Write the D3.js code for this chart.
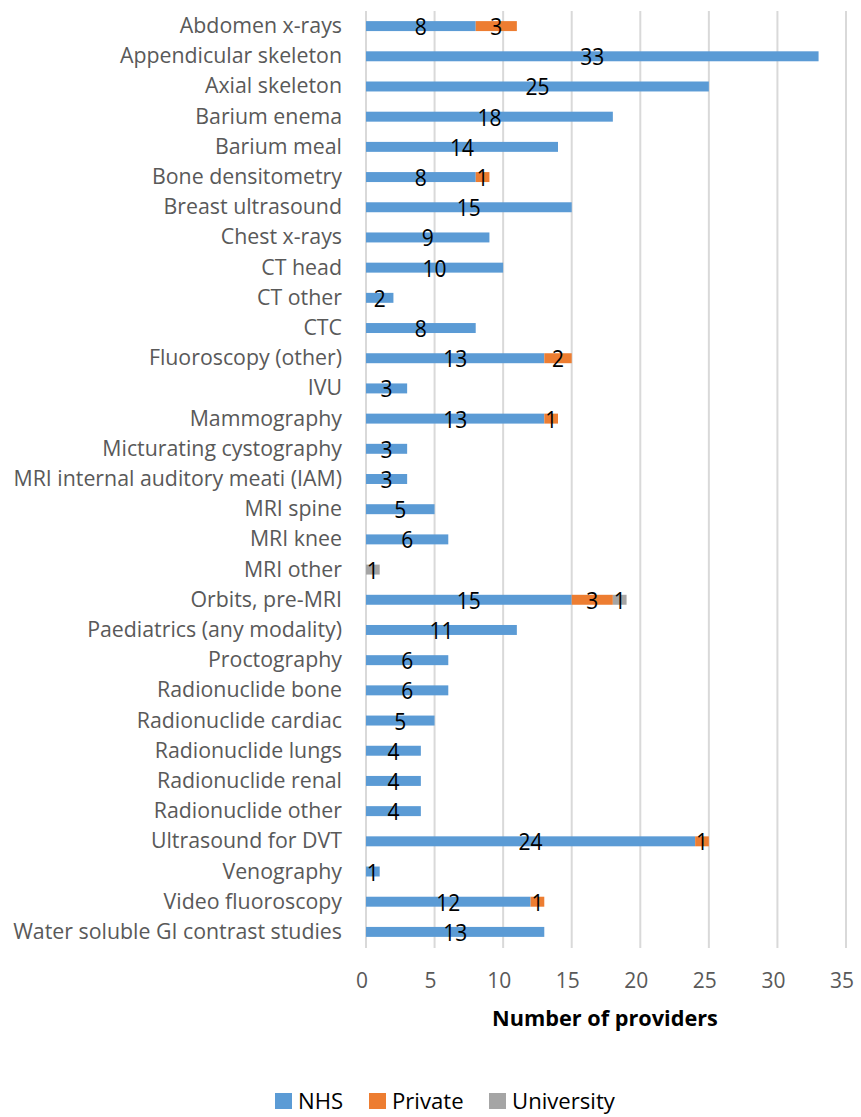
<!DOCTYPE html>
<html><head><meta charset="utf-8">
<script src="https://cdn.jsdelivr.net/npm/d3@7"></script>
<style>body{margin:0;background:#fff}svg{display:block}</style>
</head><body>
<svg id="c" width="861" height="1117"></svg>
<script>
const categories = ["Abdomen x-rays","Appendicular skeleton","Axial skeleton","Barium enema","Barium meal","Bone densitometry","Breast ultrasound","Chest x-rays","CT head","CT other","CTC","Fluoroscopy (other)","IVU","Mammography","Micturating cystography","MRI internal auditory meati (IAM)","MRI spine","MRI knee","MRI other","Orbits, pre-MRI","Paediatrics (any modality)","Proctography","Radionuclide bone","Radionuclide cardiac","Radionuclide lungs","Radionuclide renal","Radionuclide other","Ultrasound for DVT","Venography","Video fluoroscopy","Water soluble GI contrast studies"];
const nhs =        [8,33,25,18,14,8,15,9,10,2,8,13,3,13,3,3,5,6,0,15,11,6,6,5,4,4,4,24,1,12,13];
const privateV =   [3,0,0,0,0,1,0,0,0,0,0,2,0,1,0,0,0,0,0,3,0,0,0,0,0,0,0,1,0,1,0];
const university = [0,0,0,0,0,0,0,0,0,0,0,0,0,0,0,0,0,0,1,1,0,0,0,0,0,0,0,0,0,0,0];
const seriesNames = ["NHS","Private","University"];
const colors = ["#5b9bd5","#ed7d31","#a5a5a5"];
const xTicks = [0,5,10,15,20,25,30,35];

const FONT = "'Open Sans', Lato, sans-serif";
const svg = d3.select("#c");
const x = d3.scaleLinear().domain([0,35]).range([366,846]);
const y = d3.scaleBand().domain(categories).range([11,947]).paddingInner(0.67).paddingOuter(0.335);

function measure(str, size, weight){
  const t = svg.append("text").attr("font-family",FONT).attr("font-size",size)
    .attr("font-weight",weight||"normal").text(str);
  const w = t.node().getComputedTextLength();
  t.remove();
  return w;
}
function fitSize(str, target, weight){ return 20*target/measure(str,20,weight); }
const catSize = fitSize("Water soluble GI contrast studies", 329);
const dataSize = 23.5;
const dataScale = 24/measure("33", dataSize);
const tickSize = fitSize("35", 24);
const titleSize = fitSize("Number of providers", 226, "bold");
const legSize = fitSize("University", 103);

const stackData = categories.map((c,i)=>({cat:c, NHS:nhs[i], Private:privateV[i], University:university[i]}));
const stack = d3.stack().keys(seriesNames)(stackData);

// gridlines
svg.append("g").selectAll("line").data(xTicks).join("line")
  .attr("x1",d=>x(d)).attr("x2",d=>x(d)).attr("y1",11).attr("y2",948)
  .attr("stroke","#d9d9d9").attr("stroke-width",2);

// bars
const g = svg.append("g");
stack.forEach((s,si)=>{
  g.append("g").attr("fill",colors[si]).selectAll("rect").data(s).join("rect")
    .attr("x",d=>x(d[0])).attr("width",d=>x(d[1])-x(d[0]))
    .attr("y",d=>y(d.data.cat)).attr("height",y.bandwidth());
});
// data labels
stack.forEach((s,si)=>{
  g.append("g").selectAll("text").data(s.filter(d=>d[1]-d[0]>0)).join("text")
    .attr("transform",d=>`translate(${x((d[0]+d[1])/2)},${y(d.data.cat)+y.bandwidth()/2+9}) scale(${dataScale},1)`)
    .attr("text-anchor","middle").attr("font-family",FONT).attr("font-size",dataSize)
    .attr("fill","#000").text(d=>d[1]-d[0]);
});

// category labels
svg.append("g").selectAll("text").data(categories).join("text")
  .attr("x",342).attr("y",d=>y(d)+y.bandwidth()/2+7)
  .attr("text-anchor","end").attr("font-family",FONT).attr("font-size",catSize)
  .attr("fill","#595959").text(d=>d);

// x tick labels
svg.append("g").selectAll("text").data(xTicks).join("text")
  .attr("x",d=>x(d)-4).attr("y",988)
  .attr("text-anchor","middle").attr("font-family",FONT).attr("font-size",tickSize)
  .attr("fill","#595959").text(d=>d);

// axis title
svg.append("text").attr("x",605).attr("y",1026).attr("text-anchor","middle")
  .attr("font-family",FONT).attr("font-size",titleSize).attr("font-weight","bold")
  .attr("fill","#000").text("Number of providers");

// legend
const legX = [275,369,489];
const leg = svg.append("g");
seriesNames.forEach((n,i)=>{
  leg.append("rect").attr("x",legX[i]).attr("y",1093).attr("width",17).attr("height",16).attr("fill",colors[i]);
  leg.append("text").attr("x",legX[i]+23).attr("y",1109).attr("font-family",FONT).attr("font-size",legSize)
    .attr("fill","#000").text(n);
});
</script>
</body></html>
